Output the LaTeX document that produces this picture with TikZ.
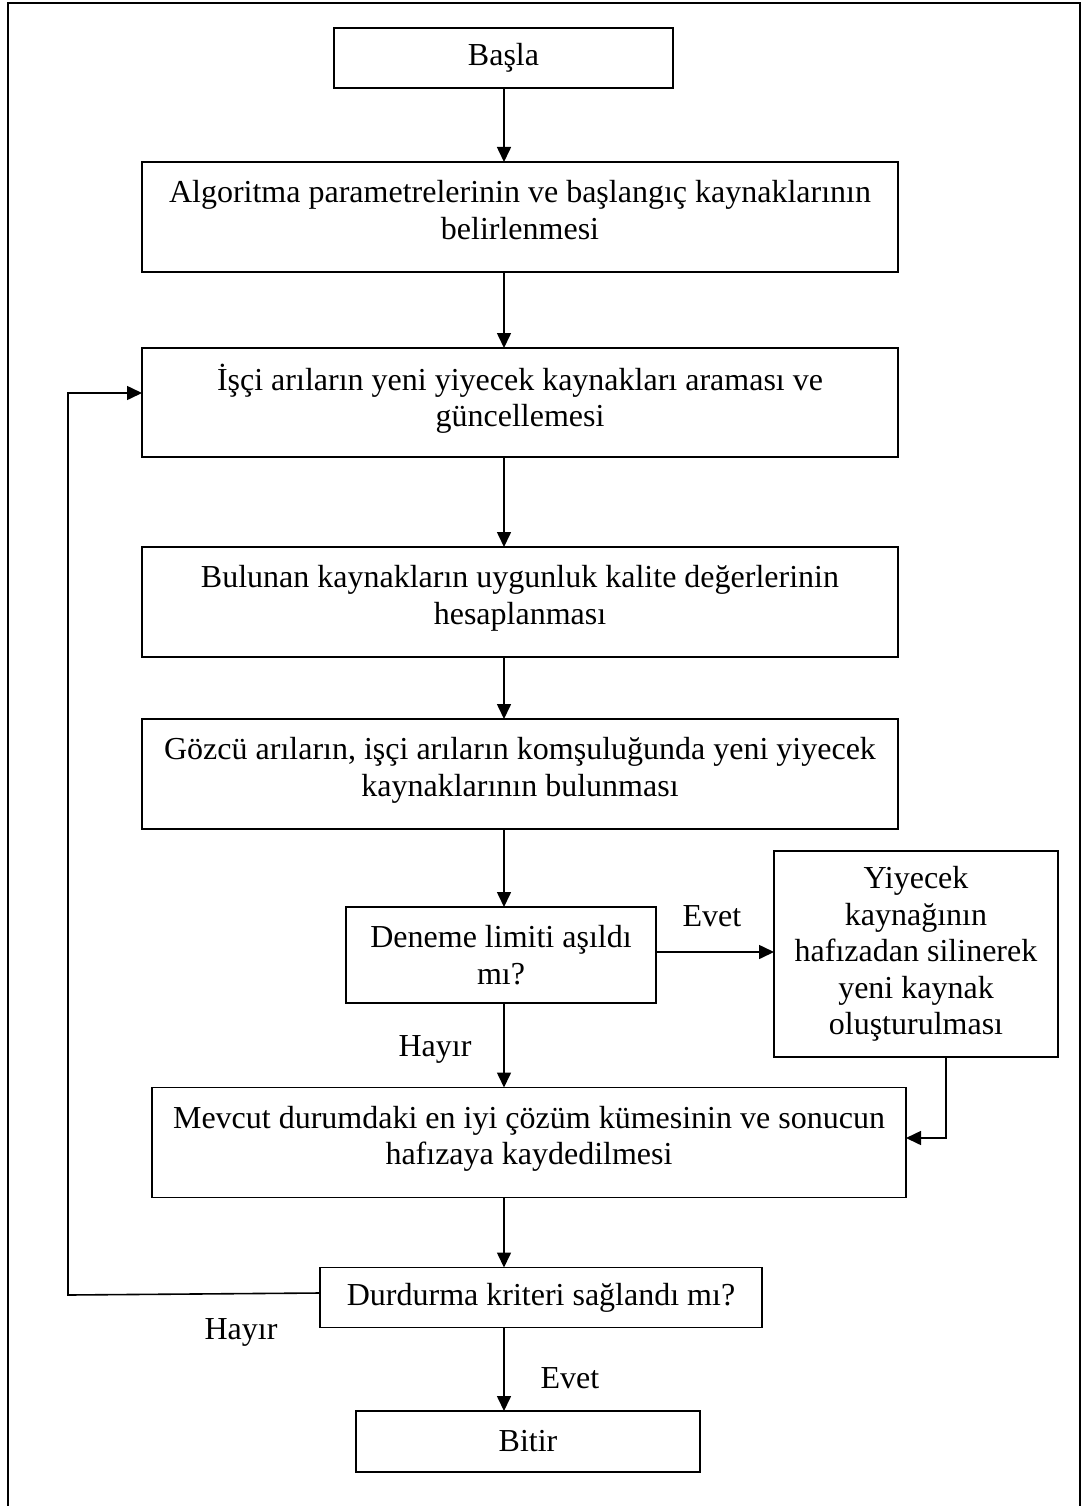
\documentclass[tikz,border=0pt]{standalone}
\usepackage{fontspec}
\setmainfont{Liberation Serif}
\usetikzlibrary{arrows.meta}
\newcommand{\lowpad}{\rule[-14pt]{0pt}{0pt}}
\begin{document}
\begin{tikzpicture}[x=1pt,y=-1pt,
  box/.style={draw, line width=1.8pt, inner sep=0pt, outer sep=0pt, align=center,
    font=\fontsize{32}{36.4}\selectfont},
  lbl/.style={inner sep=0pt, font=\fontsize{32}{36.4}\selectfont},
  arr/.style={line width=1.6pt, -{Triangle[length=15pt,width=14pt]}}]
\useasboundingbox (0,0) rectangle (1084,1506);
\draw[line width=1.8pt] (8,1520) -- (8,3) -- (1080,3) -- (1080,1520);

\node[box, minimum width=339pt, minimum height=60pt] (basla) at (503.5,58) {\raisebox{-2pt}{Başla}};
\node[box, minimum width=756pt, minimum height=110pt] (algo) at (520,217)
  {Algoritma parametrelerinin ve başlangıç kaynaklarının\\belirlenmesi\lowpad};
\node[box, minimum width=756pt, minimum height=109pt] (isci) at (520,402.5)
  {İşçi arıların yeni yiyecek kaynakları araması ve\\güncellemesi\lowpad};
\node[box, minimum width=756pt, minimum height=110pt] (bulunan) at (520,602)
  {Bulunan kaynakların uygunluk kalite değerlerinin\\hesaplanması\lowpad};
\node[box, minimum width=756pt, minimum height=110pt] (gozcu) at (520,774)
  {Gözcü arıların, işçi arıların komşuluğunda yeni yiyecek\\kaynaklarının bulunması\lowpad};
\node[box, minimum width=310pt, minimum height=96pt] (deneme) at (501,955)
  {Deneme limiti aşıldı\\mı?};
\node[box, minimum width=284pt, minimum height=206pt] (yiyecek) at (916,954)
  {Yiyecek\\kaynağının\\hafızadan silinerek\\yeni kaynak\\oluşturulması\rule[-3pt]{0pt}{0pt}};
\node[box, minimum width=754pt, minimum height=110pt] (mevcut) at (529,1142.5)
  {Mevcut durumdaki en iyi çözüm kümesinin ve sonucun\\hafızaya kaydedilmesi\lowpad};
\node[box, minimum width=442pt, minimum height=60pt] (durdurma) at (541,1297.5)
  {Durdurma kriteri sağlandı mı?};
\node[box, minimum width=344pt, minimum height=61pt] (bitir) at (528,1441.5) {Bitir};

\node[lbl, anchor=base] (evet1) at (712,926) {Evet};
\node[lbl, anchor=base] (hayir1) at (435,1056) {Hayır};
\node[lbl, anchor=base] (hayir2) at (241,1339) {Hayır};
\node[lbl, anchor=base] (evet2) at (570,1388) {Evet};

\coordinate (ax) at (504,0);
\coordinate (yb) at (946,1138);
\coordinate (fbb) at (68,1295);
\coordinate (fbt) at (68,393);
\coordinate (dy) at (0,952);

\draw[arr] (basla.south -| ax) -- (algo.north -| ax);
\draw[arr] (algo.south -| ax) -- (isci.north -| ax);
\draw[arr] (isci.south -| ax) -- (bulunan.north -| ax);
\draw[arr] (bulunan.south -| ax) -- (gozcu.north -| ax);
\draw[arr] (gozcu.south -| ax) -- (deneme.north -| ax);
\draw[arr] (deneme.south -| ax) -- (mevcut.north -| ax);
\draw[arr] (mevcut.south -| ax) -- (durdurma.north -| ax);
\draw[arr] (durdurma.south -| ax) -- (bitir.north -| ax);
\draw[arr] (deneme.east |- dy) -- (yiyecek.west |- dy);
\draw[arr] (yiyecek.south -| yb) -- (yb) -- (mevcut.east |- yb);
\draw[arr] (durdurma.west |- 0,1293) -- (fbb) -- (fbt) -- (isci.west |- fbt);
\end{tikzpicture}
\end{document}
